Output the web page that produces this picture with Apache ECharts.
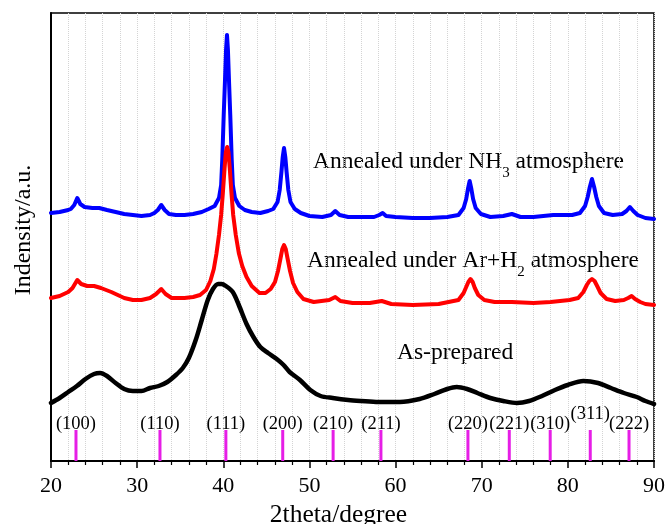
<!DOCTYPE html>
<html>
<head>
<meta charset="utf-8">
<script src="https://cdn.jsdelivr.net/npm/echarts@6/dist/echarts.min.js"></script>
<style>
html, body { margin: 0; padding: 0; background: #fff; }
#main { width: 668px; height: 524px; }
</style>
</head>
<body>
<div id="main"></div>
<script>
// 2theta(degree) -> intensity(a.u.), curves already stacked as in the figure
var nh3 = [
  [20, 248], [21, 249], [22, 251], [22.3, 252], [22.7, 256], [23.05, 263], [23.4, 257], [23.9, 254],
  [24.8, 253], [25.6, 253], [26.5, 251], [27.5, 249], [28.5, 247], [29.5, 246], [30.5, 245],
  [31.5, 246], [32.0, 248], [32.4, 251], [32.8, 256], [33.2, 251], [33.7, 247], [34.5, 246],
  [35.5, 246], [36.5, 247], [37.5, 249], [38.3, 252], [39.0, 255], [39.5, 263], [39.75, 276],
  [39.88, 301], [40.05, 346], [40.2, 381], [40.32, 411], [40.43, 426], [40.54, 411], [40.66, 381],
  [40.81, 346], [40.98, 301], [41.11, 276], [41.36, 263], [41.86, 255], [42.5, 251], [43.3, 249],
  [44.3, 248], [45.2, 250], [45.8, 252], [46.3, 259], [46.55, 271], [46.75, 289], [46.9, 304],
  [47.05, 313], [47.2, 304], [47.35, 289], [47.55, 271], [47.8, 259], [48.3, 252], [49.0, 248],
  [50, 245], [51.5, 244], [52.5, 246], [53.0, 250], [53.5, 246], [54.5, 244], [56, 244],
  [57.5, 244], [58.1, 246], [58.5, 248], [58.9, 245], [60, 244], [62, 243], [64, 243], [66, 244],
  [67.3, 246], [67.9, 253], [68.2, 262], [68.4, 272], [68.6, 280], [68.8, 272], [69.0, 262],
  [69.3, 253], [69.9, 247], [71, 244], [72.5, 245], [73.5, 247], [74.5, 244], [76, 244],
  [78.3, 246], [80.5, 246], [81.4, 248], [82.0, 255], [82.3, 264], [82.55, 274], [82.8, 282],
  [83.05, 274], [83.3, 264], [83.6, 255], [84.2, 248], [85.2, 246], [86.3, 247], [86.8, 250],
  [87.2, 254], [87.6, 250], [88.1, 246], [89, 243], [90, 242]
];
var arh2 = [
  [20, 163], [21, 165], [22, 169], [22.5, 173], [23.05, 181], [23.5, 177], [24.2, 175], [25.0, 175],
  [25.8, 173], [27, 169], [28.5, 163], [29.5, 161], [30.5, 161], [31.5, 163], [32.2, 167],
  [32.8, 172], [33.3, 167], [34, 163], [35.5, 163], [36.5, 164], [37.3, 166], [38.0, 171],
  [38.5, 180], [38.9, 192], [39.2, 207], [39.5, 226], [39.75, 246], [39.95, 268], [40.15, 293],
  [40.3, 309], [40.45, 314], [40.6, 309], [40.75, 293], [40.95, 268], [41.15, 246], [41.45, 226],
  [41.8, 208], [42.2, 195], [42.7, 184], [43.3, 175], [44.2, 168], [44.9, 168], [45.5, 172],
  [46.0, 179], [46.35, 190], [46.65, 203], [46.85, 212], [47.05, 216], [47.25, 212], [47.45, 203],
  [47.75, 190], [48.1, 178], [48.6, 169], [49.3, 162], [50.5, 159], [52.3, 161], [53.0, 164],
  [53.6, 160], [55, 158], [57, 158], [58.4, 160], [59.5, 157], [62, 156], [65, 157], [67.3, 161],
  [67.9, 168], [68.2, 174], [68.45, 179], [68.7, 182], [68.95, 179], [69.2, 173], [69.6, 166],
  [70.3, 161], [71.5, 159], [73.5, 159], [76, 158], [78, 159], [80.2, 161], [81.2, 163],
  [81.8, 169], [82.2, 176], [82.5, 180], [82.8, 182], [83.1, 180], [83.4, 175], [83.8, 168],
  [84.5, 162], [85.5, 160], [86.5, 161], [87.0, 163], [87.4, 165], [87.8, 162], [88.4, 159],
  [89, 157], [90, 156]
];
var asPrepared = [
  [20, 58], [21, 63], [22, 69], [23, 75], [24, 82], [25, 87], [25.7, 88], [26.5, 85],
  [27.5, 78], [28.5, 72], [29.5, 70], [30.5, 70], [31.5, 73], [32.5, 75], [33.5, 79],
  [34.5, 86], [35.3, 93], [36.0, 103], [36.8, 121], [37.5, 141], [38.2, 161], [38.8, 172],
  [39.4, 177], [39.8, 177], [40.3, 175], [41.1, 169], [41.8, 156], [42.7, 137], [43.5, 124],
  [44.3, 114], [45.2, 108], [46.2, 102], [47.0, 96], [47.7, 89], [48.9, 81], [50.1, 71],
  [51.3, 65], [52.7, 63], [54.5, 61], [56, 60], [58, 59], [60.5, 59], [62.8, 62], [64.5, 67],
  [66.0, 72], [67.1, 74], [68.3, 72], [69.5, 68], [71, 63], [72.5, 60], [74.1, 58], [75.5, 60],
  [77, 65], [78.5, 71], [80, 76], [81.8, 80], [83.5, 78], [85, 73], [86.5, 68], [88, 64],
  [89, 60], [90, 57]
];
// 标准卡片峰位
var hklPos = [22.9, 32.65, 40.3, 46.9, 52.75, 58.3, 68.4, 73.2, 77.95, 82.6, 87.1];
var hklName = ['(100)', '(110)', '(111)', '(200)', '(210)', '(211)', '(220)', '(221)', '(310)', '(311)', '(222)'];
var hklHeight = 31;

var FONT = 'Liberation Serif';

var hklData = hklPos.map(function (x, i) {
  var item = { name: hklName[i], value: [x, hklHeight] };
  if (hklName[i] === '(311)') item.label = { offset: [0, -10] };
  return item;
});

function lineSeries(name, data, color, width, smooth) {
  return {
    name: name,
    type: 'line',
    data: data,
    showSymbol: false,
    smooth: smooth,
    lineStyle: { color: color, width: width, join: 'round', cap: 'round' },
    silent: true,
    z: 3
  };
}

// 下标: 主体顶对齐, 下标底对齐
var rich = {
  n: { fontSize: 23.5, fontFamily: FONT, color: '#000', lineHeight: 24, verticalAlign: 'top' },
  s: { fontSize: 15, fontFamily: FONT, color: '#000', lineHeight: 31, verticalAlign: 'bottom' }
};

var chart = echarts.init(document.getElementById('main'));
chart.setOption({
  animation: false,
  backgroundColor: '#fff',
  grid: {
    left: 51, right: 14, top: 13, bottom: 63,
    outerBoundsMode: 'none',
    show: true, borderColor: '#000', borderWidth: 1.5
  },
  xAxis: {
    type: 'value',
    min: 20, max: 90, interval: 10,
    name: '2theta/degree',
    nameLocation: 'middle',
    nameGap: 40,
    nameTextStyle: { fontSize: 25.5, fontFamily: FONT, color: '#000', padding: [0, 28, 0, 0] },
    axisLine: { lineStyle: { color: '#000', width: 2 } },
    axisTick: { length: 7, lineStyle: { color: '#000', width: 1.5 } },
    minorTick: { show: true, splitNumber: 5, length: 4, lineStyle: { color: '#000', width: 1.2 } },
    axisLabel: { fontSize: 22, fontFamily: FONT, color: '#000', margin: 14 },
    splitLine: { show: true, lineStyle: { color: '#d4d4d4', type: 'dotted', width: 1 } },
    minorSplitLine: { show: true, lineStyle: { color: '#d4d4d4', type: 'dotted', width: 1 } }
  },
  yAxis: {
    type: 'value',
    min: 0, max: 448,
    name: 'Indensity/a.u.',
    nameLocation: 'middle',
    nameGap: 15,
    nameTextStyle: { fontSize: 24, fontFamily: FONT, color: '#000', padding: [0, 0, 0, 14] },
    axisLine: { show: true, lineStyle: { color: '#000', width: 2 } },
    axisTick: { show: false },
    axisLabel: { show: false },
    splitLine: { show: false }
  },
  series: [
    lineSeries('NH3', nh3, '#0000ff', 4, false),
    lineSeries('Ar+H2', arh2, '#ff0000', 4, false),
    lineSeries('As-prepared', asPrepared, '#000000', 4.5, 0.3),
    {
      name: 'hkl',
      type: 'bar',
      data: hklData,
      barWidth: 3,
      itemStyle: { color: '#e61ee6' },
      label: {
        show: true,
        position: 'top',
        distance: -4,
        formatter: '{b}',
        fontSize: 18.5,
        fontFamily: FONT,
        color: '#000'
      },
      silent: true,
      z: 2
    }
  ],
  graphic: [
    {
      type: 'text', x: 313, y: 165,
      style: { text: '{n|Annealed under NH}{s|3}{n| atmosphere}', rich: rich, align: 'left', verticalAlign: 'middle' }
    },
    {
      type: 'text', x: 307, y: 264,
      style: { text: '{n|Annealed under Ar+H}{s|2}{n| atmosphere}', rich: rich, align: 'left', verticalAlign: 'middle' }
    },
    {
      type: 'text', x: 397, y: 353,
      style: { text: 'As-prepared', font: '23.5px "Liberation Serif"', fill: '#000', align: 'left', verticalAlign: 'middle' }
    }
  ]
});
</script>
</body>
</html>
